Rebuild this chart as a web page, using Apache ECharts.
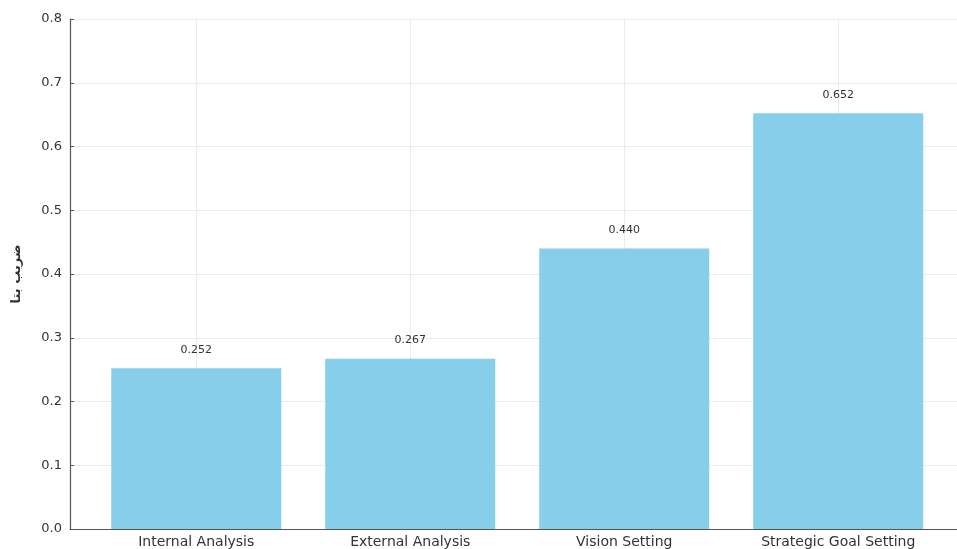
<!DOCTYPE html>
<html><head><meta charset="utf-8">
<script src="https://cdn.jsdelivr.net/npm/echarts@6/dist/echarts.min.js"></script>
<style>html,body{margin:0;padding:0;background:#fff}#c{width:957px;height:549px}</style>
</head><body><div id="c"></div>
<script>
const categories = ['Internal Analysis', 'External Analysis', 'Vision Setting', 'Strategic Goal Setting'];
const values = [0.252, 0.267, 0.440, 0.652];
const yTicks = [0, 0.1, 0.2, 0.3, 0.4, 0.5, 0.6, 0.7, 0.8];
const yName = 'ضریب بتا';

const idx = categories.map((c, i) => i);
const chart = echarts.init(document.getElementById('c'));
chart.setOption({
  animation: false,
  textStyle: { fontFamily: 'DejaVu Sans' },
  grid: { left: 70, right: 0, top: 19, bottom: 20, containLabel: false },
  xAxis: {
    type: 'value', min: -0.59, max: 3.555,
    axisLine: { show: true, onZero: false, lineStyle: { color: '#555', width: 1.2 } },
    axisTick: { show: true, inside: true, length: 4, customValues: idx, lineStyle: { color: '#555' } },
    axisLabel: { customValues: idx, formatter: v => categories[Math.round(v)], color: '#333', fontSize: 14, margin: 6 },
    splitLine: { show: true, lineStyle: { color: '#ebebeb', width: 1 } }
  },
  yAxis: {
    type: 'value', min: 0, max: 0.8,
    name: yName, nameLocation: 'middle', nameGap: 47, nameRotate: 90,
    nameTextStyle: { fontSize: 13, color: '#333', fontWeight: 'bold', fontFamily: 'DejaVu Sans' },
    axisLine: { show: true, onZero: false, lineStyle: { color: '#555', width: 1.2 } },
    axisTick: { show: true, inside: true, length: 4, customValues: yTicks, lineStyle: { color: '#555' } },
    axisLabel: { customValues: yTicks, formatter: v => v.toFixed(1), color: '#333', fontSize: 13, margin: 8 },
    splitLine: { show: true, lineStyle: { color: '#ebebeb', width: 1 } }
  },
  series: [{
    type: 'bar',
    data: idx.map(i => [i, values[i]]),
    barWidth: 170,
    itemStyle: { color: '#87CEEB' },
    label: { show: true, position: 'top', distance: 13, formatter: p => p.value[1].toFixed(3), color: '#333', fontSize: 11 }
  }]
});
</script></body></html>
